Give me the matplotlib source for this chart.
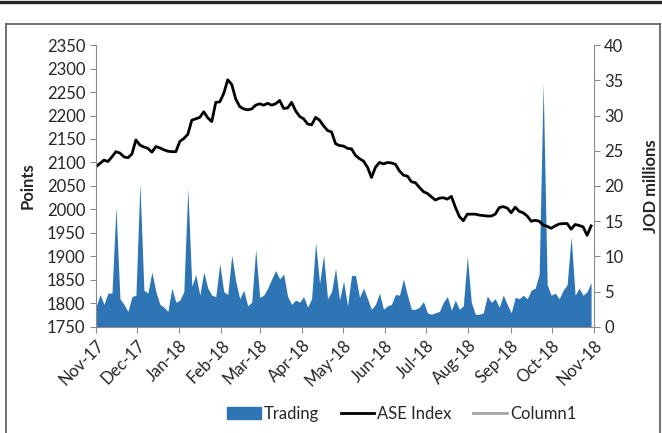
#!/usr/bin/env python3
# ASE index vs trading value, Nov-17 .. Nov-18
import numpy as np
import pandas as pd
import matplotlib
matplotlib.use('Agg')
import matplotlib.pyplot as plt
import matplotlib.dates as mdates
from matplotlib.patches import Patch
from matplotlib.lines import Line2D

plt.rcParams['font.family'] = ['Lato', 'DejaVu Sans']

# ASE index (points), read every ~3 days
ase_index = [
  2091, 2098, 2105, 2102, 2112, 2123, 2120, 2112, 2110, 2118,
  2148, 2137, 2133, 2130, 2122, 2134, 2131, 2127, 2124, 2123,
  2123, 2145, 2151, 2160, 2190, 2193, 2196, 2208, 2195, 2187,
  2228, 2229, 2247, 2276, 2266, 2235, 2219, 2214, 2212, 2214,
  2222, 2225, 2222, 2226, 2222, 2225, 2232, 2215, 2216, 2228,
  2210, 2198, 2193, 2182, 2180, 2196, 2190, 2178, 2168, 2165,
  2140, 2136, 2135, 2130, 2129, 2115, 2108, 2103, 2090, 2068,
  2090, 2100, 2097, 2100, 2099, 2096, 2082, 2073, 2071, 2059,
  2057, 2047, 2038, 2034, 2027, 2020, 2024, 2025, 2022, 2028,
  2005, 1985, 1976, 1990, 1990, 1990, 1988, 1987, 1986, 1986,
  1990, 2004, 2006, 2003, 1993, 2005, 1996, 1993, 1986, 1975,
  1977, 1975, 1967, 1964, 1960, 1965, 1969, 1970, 1970, 1958,
  1968, 1966, 1963, 1945, 1965,
]

# trading value (JOD millions)
trading = [
  2.8, 4.6, 3.2, 4.8, 4.8, 17.0, 4.0, 3.2, 2.2, 4.3,
  4.5, 20.4, 5.2, 4.8, 7.8, 5.0, 3.2, 2.8, 2.2, 5.5,
  3.5, 3.8, 5.0, 19.7, 5.8, 7.4, 4.5, 7.8, 5.5, 4.5,
  4.3, 9.0, 5.0, 4.6, 10.2, 6.5, 4.0, 5.2, 3.0, 3.5,
  11.0, 4.2, 4.5, 5.5, 6.8, 8.0, 6.8, 7.5, 4.3, 3.2,
  3.8, 3.5, 4.3, 2.8, 4.0, 12.0, 6.2, 10.2, 4.0, 5.0,
  8.3, 3.8, 6.5, 3.0, 7.3, 7.3, 4.2, 5.5, 4.0, 2.5,
  3.2, 4.8, 2.5, 3.0, 3.2, 4.6, 4.5, 6.8, 4.5, 2.5,
  2.5, 2.8, 3.6, 2.0, 1.8, 2.0, 2.2, 3.5, 4.3, 2.4,
  3.8, 2.5, 3.0, 10.0, 3.5, 1.8, 1.8, 2.0, 4.4, 3.5,
  4.0, 2.8, 4.5, 3.2, 2.0, 4.2, 4.0, 4.5, 4.0, 5.2,
  5.5, 7.5, 34.6, 6.0, 4.5, 4.8, 4.0, 5.2, 6.0, 12.8,
  4.5, 5.5, 4.5, 5.0, 6.3,
]

idx_dates = pd.date_range('2017-11-01', '2018-10-30', periods=len(ase_index))
trd_dates = pd.date_range('2017-11-01', '2018-10-30', periods=len(trading))

blue = '#2E75B6'
axis_gray = '#8C8C8C'
txt = '#262626'

fig = plt.figure(figsize=(6.62, 4.33), dpi=100)
ax = fig.add_axes([0.145, 0.245, 0.752, 0.651])
ax2 = ax.twinx()

ax2.fill_between(trd_dates, 0, trading, color=blue, lw=0)
ax.plot(idx_dates, ase_index, color='black', lw=2.0)

# index line above the trading area
ax.set_zorder(ax2.get_zorder() + 1)
ax.patch.set_visible(False)

ax.set_xlim(pd.Timestamp('2017-11-01'), pd.Timestamp('2018-11-01'))
ax.set_ylim(1750, 2350)
ax.set_yticks(np.arange(1750, 2351, 50))
ax2.set_ylim(0, 40)
ax2.set_yticks(np.arange(0, 41, 5))

ax.xaxis.set_major_locator(mdates.MonthLocator())
ax.xaxis.set_major_formatter(mdates.DateFormatter('%b-%y'))
for lbl in ax.get_xticklabels():
  lbl.set_rotation(45)
  lbl.set_ha('right')
  lbl.set_rotation_mode('anchor')

for a in (ax, ax2):
  a.spines['top'].set_visible(False)
  for s in ('left', 'right', 'bottom'):
    a.spines[s].set_color(axis_gray)
    a.spines[s].set_linewidth(0.8)
  a.tick_params(colors=axis_gray, labelcolor=txt, labelsize=12, length=4, width=0.8)
ax.spines['right'].set_visible(False)
ax2.spines['left'].set_visible(False)
ax2.spines['bottom'].set_visible(False)

ax.set_ylabel('Points', fontsize=12, fontweight='bold', color=txt, labelpad=8)
ax2.set_ylabel('JOD millions', fontsize=12, fontweight='bold', color=txt, labelpad=14)

handles = [
  Patch(facecolor=blue, edgecolor=blue, label='Trading'),
  Line2D([], [], color='black', lw=2.0, label='ASE Index'),
  Line2D([], [], color='#A5A5A5', lw=2.0, label='Column1'),
]
fig.legend(handles=handles, loc='center', bbox_to_anchor=(0.607, 0.044), ncol=3,
           frameon=False, fontsize=12, handlelength=2.0, handletextpad=0.2,
           columnspacing=1.3, labelcolor=txt)

# chart frame and the edge of the box above it
W, H = 662, 433
fig.add_artist(Line2D([6 / W, 6 / W], [0, (H - 24) / H], color='#595959', lw=1.2))
fig.add_artist(Line2D([6 / W, 660 / W], [(H - 24) / H, (H - 24) / H], color='#595959', lw=1.2))
fig.add_artist(Line2D([660 / W, 660 / W], [0, (H - 24) / H], color='#595959', lw=1.2))
fig.add_artist(Line2D([0, 351 / W], [(H - 1.5) / H, (H - 1.5) / H], color='#262626', lw=2.4))
fig.add_artist(Line2D([354 / W, 1], [(H - 1.5) / H, (H - 1.5) / H], color='#262626', lw=2.4))

fig.savefig('out.png', dpi=100)
